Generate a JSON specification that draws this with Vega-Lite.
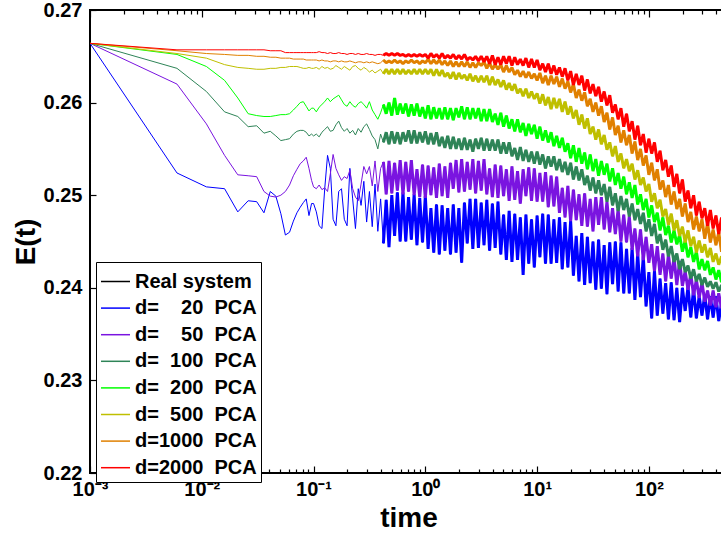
{
"$schema":"https://vega.github.io/schema/vega-lite/v6.json",
"width":637,"height":463,
"autosize":{"type":"none"},
"padding":{"left":90,"top":10,"right":0,"bottom":62},
"background":"white",
"config":{"view":{"stroke":"black","strokeWidth":2},"font":"Liberation Sans"},
"data":{"values":[
{"t":0.001,"a":0.2664,"b":0.2664,"c":0.2664,"d":0.2664,"e":0.2664,"f":0.2664,"g":0.2664,"r":0.2664},
{"t":0.006,"a":0.2524,"b":0.2620,"c":0.2637,"d":0.2652,"e":0.2653,"f":0.2656,"g":0.2657},
{"t":0.011,"a":0.2509,"b":0.2577,"c":0.2612,"d":0.2639,"e":0.2648,"f":0.2653,"g":0.2657},
{"t":0.016,"a":0.2507,"b":0.2543,"c":0.2590,"d":0.2624,"e":0.2641,"f":0.2652,"g":0.2657},
{"t":0.021,"a":0.2482,"b":0.2522,"c":0.2585,"d":0.2605,"e":0.2638,"f":0.2651,"g":0.2657},
{"t":0.026,"a":0.2494,"b":0.2521,"c":0.2574,"d":0.2588,"e":0.2637,"f":0.2651,"g":0.2657},
{"t":0.031,"a":0.2493,"b":0.2520,"c":0.2575,"d":0.2586,"e":0.2636,"f":0.2650,"g":0.2657},
{"t":0.036,"a":0.2481,"b":0.2504,"c":0.2567,"d":0.2585,"e":0.2636,"f":0.2650,"g":0.2657},
{"t":0.041,"a":0.2504,"b":0.2499,"c":0.2569,"d":0.2585,"e":0.2637,"f":0.2649,"g":0.2656},
{"t":0.046,"a":0.2499,"b":0.2498,"c":0.2564,"d":0.2586,"e":0.2637,"f":0.2649,"g":0.2656},
{"t":0.051,"a":0.2480,"b":0.2500,"c":0.2559,"d":0.2587,"e":0.2638,"f":0.2648,"g":0.2656},
{"t":0.056,"a":0.2457,"b":0.2504,"c":0.2560,"d":0.2587,"e":0.2638,"f":0.2648,"g":0.2654},
{"t":0.061,"a":0.2460,"b":0.2511,"c":0.2561,"d":0.2588,"e":0.2639,"f":0.2648,"g":0.2654},
{"t":0.066,"a":0.2472,"b":0.2521,"c":0.2566,"d":0.2592,"e":0.2639,"f":0.2647,"g":0.2654},
{"t":0.071,"a":0.2481,"b":0.2528,"c":0.2569,"d":0.2596,"e":0.2639,"f":0.2647,"g":0.2654},
{"t":0.076,"a":0.2487,"b":0.2534,"c":0.2570,"d":0.2600,"e":0.2638,"f":0.2647,"g":0.2654},
{"t":0.081,"a":0.2492,"b":0.2537,"c":0.2570,"d":0.2601,"e":0.2637,"f":0.2647,"g":0.2654},
{"t":0.086,"a":0.2496,"b":0.2541,"c":0.2568,"d":0.2596,"e":0.2637,"f":0.2646,"g":0.2654},
{"t":0.091,"a":0.2478,"b":0.2529,"c":0.2564,"d":0.2591,"e":0.2638,"f":0.2646,"g":0.2654},
{"t":0.096,"a":0.2491,"b":0.2516,"c":0.2566,"d":0.2594,"e":0.2637,"f":0.2646,"g":0.2654},
{"t":0.1,"a":0.2491,"b":0.2509,"c":0.2564,"d":0.2594,"e":0.2637,"f":0.2646,"g":0.2654},
{"t":0.1059,"a":0.2482,"b":0.2507,"c":0.2566,"d":0.2590,"e":0.2638,"f":0.2646,"g":0.2654},
{"t":0.1122,"a":0.2467,"b":0.2511,"c":0.2563,"d":0.2595,"e":0.2636,"f":0.2645,"g":0.2655},
{"t":0.1189,"a":0.2464,"b":0.2506,"c":0.2568,"d":0.2598,"e":0.2639,"f":0.2646,"g":0.2654},
{"t":0.1259,"a":0.2507,"b":0.2508,"c":0.2571,"d":0.2601,"e":0.2637,"f":0.2645,"g":0.2654},
{"t":0.1334,"a":0.2543,"b":0.2504,"c":0.2574,"d":0.2605,"e":0.2638,"f":0.2645,"g":0.2653},
{"t":0.1413,"a":0.2529,"b":0.2523,"c":0.2569,"d":0.2601,"e":0.2636,"f":0.2644,"g":0.2654},
{"t":0.1496,"a":0.2474,"b":0.2544,"c":0.2570,"d":0.2604,"e":0.2637,"f":0.2645,"g":0.2653},
{"t":0.1585,"a":0.2467,"b":0.2529,"c":0.2576,"d":0.2606,"e":0.2640,"f":0.2645,"g":0.2653},
{"t":0.1679,"a":0.2504,"b":0.2522,"c":0.2580,"d":0.2608,"e":0.2638,"f":0.2644,"g":0.2654},
{"t":0.1778,"a":0.2507,"b":0.2516,"c":0.2573,"d":0.2603,"e":0.2636,"f":0.2645,"g":0.2653},
{"t":0.1884,"a":0.2474,"b":0.2520,"c":0.2569,"d":0.2598,"e":0.2639,"f":0.2644,"g":0.2653},
{"t":0.1995,"a":0.2467,"b":0.2518,"c":0.2572,"d":0.2596,"e":0.2637,"f":0.2644,"g":0.2652},
{"t":0.2113,"a":0.2529,"b":0.2527,"c":0.2567,"d":0.2601,"e":0.2635,"f":0.2645,"g":0.2653},
{"t":0.2239,"a":0.2496,"b":0.2507,"c":0.2570,"d":0.2597,"e":0.2639,"f":0.2644,"g":0.2653},
{"t":0.2371,"a":0.2464,"b":0.2498,"c":0.2565,"d":0.2595,"e":0.2640,"f":0.2643,"g":0.2652},
{"t":0.2512,"a":0.2507,"b":0.2494,"c":0.2572,"d":0.2599,"e":0.2637,"f":0.2644,"g":0.2653},
{"t":0.2661,"a":0.2489,"b":0.2512,"c":0.2568,"d":0.2601,"e":0.2635,"f":0.2644,"g":0.2652},
{"t":0.2818,"a":0.2515,"b":0.2531,"c":0.2574,"d":0.2598,"e":0.2638,"f":0.2643,"g":0.2652},
{"t":0.2985,"a":0.2471,"b":0.2523,"c":0.2577,"d":0.2594,"e":0.2636,"f":0.2644,"g":0.2653},
{"t":0.3162,"a":0.2504,"b":0.2531,"c":0.2571,"d":0.2601,"e":0.2633,"f":0.2643,"g":0.2652},
{"t":0.335,"a":0.2466,"b":0.2510,"c":0.2564,"d":0.2592,"e":0.2635,"f":0.2644,"g":0.2652},
{"t":0.3548,"a":0.2512,"b":0.2537,"c":0.2560,"d":0.2587,"e":0.2632,"f":0.2643,"g":0.2651},
{"t":0.3758,"a":0.2461,"b":0.2504,"c":0.2550,"d":0.2582,"e":0.2634,"f":0.2642,"g":0.2652},
{"t":0.3981,"a":0.2496,"b":0.2529,"c":0.2566,"d":0.2589,"e":0.2636,"f":0.2643,"g":0.2652},
{"t":0.4217,"a":0.2448,"b":0.2536,"c":0.2557,"d":0.2598,"e":0.2631,"f":0.2646,"g":0.2651},
{"t":0.4467,"a":0.2495,"b":0.2501,"c":0.2568,"d":0.2588,"e":0.2636,"f":0.2643,"g":0.2653},
{"t":0.4732,"a":0.2444,"b":0.2537,"c":0.2555,"d":0.2600,"e":0.2631,"f":0.2645,"g":0.2651},
{"t":0.5012,"a":0.2500,"b":0.2502,"c":0.2569,"d":0.2586,"e":0.2636,"f":0.2643,"g":0.2653},
{"t":0.5309,"a":0.2456,"b":0.2535,"c":0.2556,"d":0.2605,"e":0.2631,"f":0.2646,"g":0.2651},
{"t":0.5623,"a":0.2503,"b":0.2505,"c":0.2568,"d":0.2587,"e":0.2636,"f":0.2643,"g":0.2653},
{"t":0.5957,"a":0.2450,"b":0.2538,"c":0.2555,"d":0.2599,"e":0.2631,"f":0.2645,"g":0.2651},
{"t":0.631,"a":0.2503,"b":0.2501,"c":0.2568,"d":0.2588,"e":0.2636,"f":0.2642,"g":0.2652},
{"t":0.6683,"a":0.2450,"b":0.2536,"c":0.2558,"d":0.2599,"e":0.2631,"f":0.2645,"g":0.2650},
{"t":0.7079,"a":0.2498,"b":0.2504,"c":0.2570,"d":0.2585,"e":0.2635,"f":0.2643,"g":0.2652},
{"t":0.7499,"a":0.2452,"b":0.2538,"c":0.2556,"d":0.2598,"e":0.2631,"f":0.2646,"g":0.2650},
{"t":0.7943,"a":0.2501,"b":0.2500,"c":0.2570,"d":0.2586,"e":0.2636,"f":0.2643,"g":0.2652},
{"t":0.8414,"a":0.2446,"b":0.2528,"c":0.2556,"d":0.2599,"e":0.2631,"f":0.2645,"g":0.2650},
{"t":0.8913,"a":0.2497,"b":0.2498,"c":0.2568,"d":0.2585,"e":0.2636,"f":0.2642,"g":0.2652},
{"t":0.9441,"a":0.2449,"b":0.2533,"c":0.2557,"d":0.2595,"e":0.2631,"f":0.2645,"g":0.2650},
{"t":1,"a":0.2499,"b":0.2497,"c":0.2569,"d":0.2583,"e":0.2636,"f":0.2643,"g":0.2652},
{"t":1.059,"a":0.2442,"b":0.2532,"c":0.2555,"d":0.2597,"e":0.2631,"f":0.2647,"g":0.2648},
{"t":1.122,"a":0.2486,"b":0.2500,"c":0.2567,"d":0.2582,"e":0.2636,"f":0.2642,"g":0.2653},
{"t":1.189,"a":0.2438,"b":0.2530,"c":0.2555,"d":0.2595,"e":0.2629,"f":0.2646,"g":0.2649},
{"t":1.259,"a":0.2490,"b":0.2497,"c":0.2568,"d":0.2583,"e":0.2636,"f":0.2642,"g":0.2652},
{"t":1.334,"a":0.2436,"b":0.2534,"c":0.2553,"d":0.2594,"e":0.2629,"f":0.2646,"g":0.2648},
{"t":1.413,"a":0.2489,"b":0.2499,"c":0.2563,"d":0.2582,"e":0.2635,"f":0.2641,"g":0.2653},
{"t":1.496,"a":0.2440,"b":0.2531,"c":0.2551,"d":0.2595,"e":0.2628,"f":0.2645,"g":0.2648},
{"t":1.585,"a":0.2486,"b":0.2497,"c":0.2564,"d":0.2582,"e":0.2632,"f":0.2640,"g":0.2651},
{"t":1.679,"a":0.2436,"b":0.2535,"c":0.2550,"d":0.2594,"e":0.2626,"f":0.2645,"g":0.2648},
{"t":1.778,"a":0.2490,"b":0.2507,"c":0.2563,"d":0.2581,"e":0.2633,"f":0.2639,"g":0.2652},
{"t":1.884,"a":0.2438,"b":0.2538,"c":0.2550,"d":0.2594,"e":0.2625,"f":0.2644,"g":0.2647},
{"t":1.995,"a":0.2486,"b":0.2503,"c":0.2561,"d":0.2584,"e":0.2632,"f":0.2639,"g":0.2651},
{"t":2.113,"a":0.2427,"b":0.2539,"c":0.2549,"d":0.2596,"e":0.2626,"f":0.2644,"g":0.2647},
{"t":2.239,"a":0.2492,"b":0.2504,"c":0.2562,"d":0.2582,"e":0.2630,"f":0.2639,"g":0.2652},
{"t":2.371,"a":0.2448,"b":0.2536,"c":0.2549,"d":0.2595,"e":0.2624,"f":0.2644,"g":0.2646},
{"t":2.512,"a":0.2496,"b":0.2506,"c":0.2560,"d":0.2582,"e":0.2631,"f":0.2638,"g":0.2649},
{"t":2.661,"a":0.2442,"b":0.2539,"c":0.2547,"d":0.2594,"e":0.2623,"f":0.2643,"g":0.2646},
{"t":2.818,"a":0.2496,"b":0.2502,"c":0.2561,"d":0.2583,"e":0.2629,"f":0.2638,"g":0.2650},
{"t":2.985,"a":0.2443,"b":0.2537,"c":0.2550,"d":0.2594,"e":0.2622,"f":0.2643,"g":0.2645},
{"t":3.162,"a":0.2492,"b":0.2505,"c":0.2562,"d":0.2580,"e":0.2629,"f":0.2640,"g":0.2650},
{"t":3.35,"a":0.2446,"b":0.2539,"c":0.2548,"d":0.2593,"e":0.2622,"f":0.2644,"g":0.2644},
{"t":3.548,"a":0.2495,"b":0.2501,"c":0.2561,"d":0.2580,"e":0.2629,"f":0.2637,"g":0.2650},
{"t":3.758,"a":0.2440,"b":0.2529,"c":0.2548,"d":0.2593,"e":0.2619,"f":0.2643,"g":0.2642},
{"t":3.981,"a":0.2491,"b":0.2498,"c":0.2560,"d":0.2579,"e":0.2628,"f":0.2636,"g":0.2651},
{"t":4.217,"a":0.2443,"b":0.2533,"c":0.2548,"d":0.2588,"e":0.2619,"f":0.2641,"g":0.2641},
{"t":4.467,"a":0.2493,"b":0.2497,"c":0.2560,"d":0.2576,"e":0.2625,"f":0.2636,"g":0.2649},
{"t":4.732,"a":0.2436,"b":0.2532,"c":0.2545,"d":0.2589,"e":0.2617,"f":0.2641,"g":0.2641},
{"t":5.012,"a":0.2479,"b":0.2499,"c":0.2557,"d":0.2574,"e":0.2624,"f":0.2633,"g":0.2650},
{"t":5.309,"a":0.2430,"b":0.2528,"c":0.2545,"d":0.2586,"e":0.2614,"f":0.2640,"g":0.2642},
{"t":5.623,"a":0.2483,"b":0.2494,"c":0.2557,"d":0.2572,"e":0.2621,"f":0.2633,"g":0.2650},
{"t":5.957,"a":0.2428,"b":0.2531,"c":0.2542,"d":0.2582,"e":0.2613,"f":0.2638,"g":0.2640},
{"t":6.31,"a":0.2480,"b":0.2495,"c":0.2551,"d":0.2569,"e":0.2620,"f":0.2630,"g":0.2649},
{"t":6.683,"a":0.2430,"b":0.2526,"c":0.2538,"d":0.2582,"e":0.2610,"f":0.2635,"g":0.2641},
{"t":7.079,"a":0.2476,"b":0.2491,"c":0.2552,"d":0.2568,"e":0.2615,"f":0.2628,"g":0.2647},
{"t":7.499,"a":0.2414,"b":0.2528,"c":0.2537,"d":0.2578,"e":0.2607,"f":0.2634,"g":0.2640},
{"t":7.943,"a":0.2479,"b":0.2499,"c":0.2549,"d":0.2564,"e":0.2615,"f":0.2627,"g":0.2648},
{"t":8.414,"a":0.2426,"b":0.2530,"c":0.2536,"d":0.2577,"e":0.2605,"f":0.2633,"g":0.2638},
{"t":8.913,"a":0.2474,"b":0.2494,"c":0.2547,"d":0.2566,"e":0.2612,"f":0.2626,"g":0.2647},
{"t":9.441,"a":0.2422,"b":0.2529,"c":0.2534,"d":0.2576,"e":0.2604,"f":0.2631,"g":0.2638},
{"t":10,"a":0.2478,"b":0.2493,"c":0.2547,"d":0.2561,"e":0.2610,"f":0.2624,"g":0.2646},
{"t":10.59,"a":0.2433,"b":0.2524,"c":0.2533,"d":0.2574,"e":0.2599,"f":0.2632,"g":0.2635},
{"t":11.22,"a":0.2480,"b":0.2493,"c":0.2544,"d":0.2559,"e":0.2609,"f":0.2621,"g":0.2642},
{"t":11.89,"a":0.2426,"b":0.2525,"c":0.2529,"d":0.2570,"e":0.2597,"f":0.2629,"g":0.2633},
{"t":12.59,"a":0.2479,"b":0.2487,"c":0.2542,"d":0.2557,"e":0.2606,"f":0.2619,"g":0.2642},
{"t":13.34,"a":0.2426,"b":0.2521,"c":0.2531,"d":0.2568,"e":0.2593,"f":0.2629,"g":0.2631},
{"t":14.13,"a":0.2474,"b":0.2488,"c":0.2542,"d":0.2553,"e":0.2605,"f":0.2620,"g":0.2640},
{"t":14.96,"a":0.2427,"b":0.2520,"c":0.2527,"d":0.2564,"e":0.2594,"f":0.2628,"g":0.2630},
{"t":15.85,"a":0.2476,"b":0.2481,"c":0.2539,"d":0.2551,"e":0.2604,"f":0.2617,"g":0.2638},
{"t":16.79,"a":0.2420,"b":0.2508,"c":0.2525,"d":0.2562,"e":0.2590,"f":0.2626,"g":0.2628},
{"t":17.78,"a":0.2471,"b":0.2476,"c":0.2536,"d":0.2547,"e":0.2601,"f":0.2615,"g":0.2637},
{"t":18.84,"a":0.2422,"b":0.2510,"c":0.2522,"d":0.2556,"e":0.2587,"f":0.2623,"g":0.2624},
{"t":19.95,"a":0.2472,"b":0.2472,"c":0.2535,"d":0.2540,"e":0.2596,"f":0.2611,"g":0.2634},
{"t":21.13,"a":0.2413,"b":0.2506,"c":0.2517,"d":0.2554,"e":0.2583,"f":0.2620,"g":0.2619},
{"t":22.39,"a":0.2456,"b":0.2473,"c":0.2531,"d":0.2536,"e":0.2592,"f":0.2605,"g":0.2631},
{"t":23.71,"a":0.2407,"b":0.2501,"c":0.2516,"d":0.2551,"e":0.2576,"f":0.2614,"g":0.2619},
{"t":25.12,"a":0.2459,"b":0.2467,"c":0.2528,"d":0.2534,"e":0.2587,"f":0.2602,"g":0.2629},
{"t":26.61,"a":0.2403,"b":0.2502,"c":0.2511,"d":0.2546,"e":0.2572,"f":0.2611,"g":0.2613},
{"t":28.18,"a":0.2455,"b":0.2466,"c":0.2521,"d":0.2528,"e":0.2583,"f":0.2596,"g":0.2625},
{"t":29.85,"a":0.2405,"b":0.2496,"c":0.2505,"d":0.2544,"e":0.2566,"f":0.2604,"g":0.2610},
{"t":31.62,"a":0.2450,"b":0.2461,"c":0.2519,"d":0.2526,"e":0.2574,"f":0.2590,"g":0.2620},
{"t":33.5,"a":0.2398,"b":0.2498,"c":0.2502,"d":0.2539,"e":0.2560,"f":0.2600,"g":0.2607},
{"t":35.48,"a":0.2452,"b":0.2468,"c":0.2516,"d":0.2521,"e":0.2571,"f":0.2586,"g":0.2617},
{"t":37.58,"a":0.2399,"b":0.2498,"c":0.2500,"d":0.2537,"e":0.2555,"f":0.2596,"g":0.2601},
{"t":39.81,"a":0.2446,"b":0.2463,"c":0.2512,"d":0.2522,"e":0.2565,"f":0.2579,"g":0.2612},
{"t":42.17,"a":0.2393,"b":0.2493,"c":0.2493,"d":0.2534,"e":0.2549,"f":0.2589,"g":0.2597},
{"t":44.67,"a":0.2449,"b":0.2460,"c":0.2509,"d":0.2515,"e":0.2557,"f":0.2571,"g":0.2608},
{"t":47.32,"a":0.2404,"b":0.2486,"c":0.2489,"d":0.2529,"e":0.2542,"f":0.2584,"g":0.2589},
{"t":50.12,"a":0.2450,"b":0.2458,"c":0.2502,"d":0.2511,"e":0.2553,"f":0.2565,"g":0.2598},
{"t":53.09,"a":0.2396,"b":0.2485,"c":0.2483,"d":0.2524,"e":0.2536,"f":0.2575,"g":0.2582},
{"t":56.23,"a":0.2449,"b":0.2450,"c":0.2499,"d":0.2507,"e":0.2545,"f":0.2557,"g":0.2594},
{"t":59.57,"a":0.2394,"b":0.2479,"c":0.2484,"d":0.2520,"e":0.2529,"f":0.2570,"g":0.2574},
{"t":63.1,"a":0.2442,"b":0.2449,"c":0.2496,"d":0.2501,"e":0.2539,"f":0.2554,"g":0.2588},
{"t":66.83,"a":0.2394,"b":0.2477,"c":0.2477,"d":0.2514,"e":0.2526,"f":0.2565,"g":0.2569},
{"t":70.79,"a":0.2443,"b":0.2441,"c":0.2491,"d":0.2497,"e":0.2534,"f":0.2545,"g":0.2580},
{"t":74.99,"a":0.2387,"b":0.2464,"c":0.2473,"d":0.2511,"e":0.2517,"f":0.2558,"g":0.2560},
{"t":79.43,"a":0.2437,"b":0.2434,"c":0.2485,"d":0.2490,"e":0.2527,"f":0.2538,"g":0.2575},
{"t":84.14,"a":0.2390,"b":0.2463,"c":0.2469,"d":0.2501,"e":0.2511,"f":0.2550,"g":0.2554},
{"t":89.13,"a":0.2434,"b":0.2430,"c":0.2481,"d":0.2484,"e":0.2519,"f":0.2532,"g":0.2566},
{"t":94.41,"a":0.2380,"b":0.2455,"c":0.2461,"d":0.2496,"e":0.2504,"f":0.2543,"g":0.2546},
{"t":100,"a":0.2417,"b":0.2427,"c":0.2474,"d":0.2476,"e":0.2512,"f":0.2522,"g":0.2561},
{"t":105.9,"a":0.2367,"b":0.2447,"c":0.2456,"d":0.2489,"e":0.2493,"f":0.2535,"g":0.2545},
{"t":112.2,"a":0.2418,"b":0.2418,"c":0.2469,"d":0.2471,"e":0.2502,"f":0.2516,"g":0.2557},
{"t":118.9,"a":0.2370,"b":0.2445,"c":0.2448,"d":0.2481,"e":0.2486,"f":0.2528,"g":0.2536},
{"t":125.9,"a":0.2410,"b":0.2414,"c":0.2458,"d":0.2462,"e":0.2495,"f":0.2506,"g":0.2548},
{"t":133.4,"a":0.2372,"b":0.2437,"c":0.2441,"d":0.2476,"e":0.2477,"f":0.2516,"g":0.2527},
{"t":141.3,"a":0.2405,"b":0.2407,"c":0.2452,"d":0.2457,"e":0.2485,"f":0.2498,"g":0.2538},
{"t":149.6,"a":0.2366,"b":0.2436,"c":0.2434,"d":0.2467,"e":0.2468,"f":0.2511,"g":0.2520},
{"t":158.5,"a":0.2406,"b":0.2410,"c":0.2445,"d":0.2449,"e":0.2480,"f":0.2490,"g":0.2532},
{"t":167.9,"a":0.2365,"b":0.2433,"c":0.2428,"d":0.2462,"e":0.2462,"f":0.2504,"g":0.2509},
{"t":177.8,"a":0.2400,"b":0.2403,"c":0.2437,"d":0.2447,"e":0.2473,"f":0.2485,"g":0.2523},
{"t":188.4,"a":0.2363,"b":0.2429,"c":0.2420,"d":0.2457,"e":0.2456,"f":0.2496,"g":0.2502},
{"t":199.5,"a":0.2400,"b":0.2402,"c":0.2431,"d":0.2439,"e":0.2466,"f":0.2477,"g":0.2517},
{"t":211.3,"a":0.2375,"b":0.2418,"c":0.2417,"d":0.2451,"e":0.2449,"f":0.2491,"g":0.2493},
{"t":223.9,"a":0.2401,"b":0.2398,"c":0.2424,"d":0.2433,"e":0.2462,"f":0.2471,"g":0.2505},
{"t":237.1,"a":0.2368,"b":0.2415,"c":0.2410,"d":0.2444,"e":0.2445,"f":0.2482,"g":0.2486},
{"t":251.2,"a":0.2399,"b":0.2392,"c":0.2420,"d":0.2428,"e":0.2455,"f":0.2463,"g":0.2500},
{"t":266.1,"a":0.2367,"b":0.2409,"c":0.2407,"d":0.2439,"e":0.2438,"f":0.2477,"g":0.2478},
{"t":281.8,"a":0.2391,"b":0.2389,"c":0.2415,"d":0.2420,"e":0.2451,"f":0.2461,"g":0.2493},
{"t":298.5,"a":0.2370,"b":0.2406,"c":0.2403,"d":0.2431,"e":0.2438,"f":0.2474,"g":0.2475},
{"t":316.2,"a":0.2393,"b":0.2385,"c":0.2411,"d":0.2419,"e":0.2447,"f":0.2453,"g":0.2486},
{"t":335,"a":0.2366,"b":0.2397,"c":0.2401,"d":0.2429,"e":0.2433,"f":0.2470,"g":0.2467},
{"t":354.8,"a":0.2391,"b":0.2381,"c":0.2407,"d":0.2414,"e":0.2443,"f":0.2449,"g":0.2484},
{"t":375.8,"a":0.2368,"b":0.2397,"c":0.2399,"d":0.2422,"e":0.2428,"f":0.2463,"g":0.2464},
{"t":398.1,"a":0.2391,"b":0.2379,"c":0.2406,"d":0.2409,"e":0.2437,"f":0.2446,"g":0.2478},
{"t":421.7,"a":0.2364,"b":0.2394,"c":0.2396,"d":0.2419,"e":0.2425,"f":0.2460,"g":0.2458},
{"t":446.7,"a":0.2384,"b":0.2378,"c":0.2403,"d":0.2406,"e":0.2434,"f":0.2439,"g":0.2476},
{"t":473.2,"a":0.2361,"b":0.2390,"c":0.2394,"d":0.2416,"e":0.2420,"f":0.2454,"g":0.2459},
{"t":501.2,"a":0.2384,"b":0.2375,"c":0.2401,"d":0.2403,"e":0.2429,"f":0.2435,"g":0.2472,"r":0.2664}
]},
"transform":[{"fold":["r","a","b","c","d","e","f","g"],"as":["s","v"]}],
"layer":[
{"mark":{"type":"line","strokeWidth":1,"clip":true},
 "encoding":{
  "x":{"field":"t","type":"quantitative","scale":{"type":"log","domain":[0.001,500],"nice":false},
   "axis":{"orient":"bottom","values":[0.001,0.002,0.003,0.004,0.005,0.006,0.007,0.008,0.009,0.01,0.02,0.03,0.04,0.05,0.06,0.07,0.08,0.09,0.1,0.2,0.3,0.4,0.5,0.6,0.7,0.8,0.9,1,2,3,4,5,6,7,8,9,10,20,30,40,50,60,70,80,90,100,200,300,400,500],
    "labelExpr":"datum.value==0.001?'10⁻³':datum.value==0.01?'10⁻²':datum.value==0.1?'10⁻¹':datum.value==1?'10⁰':datum.value==10?'10¹':datum.value==100?'10²':''",
    "tickSize":{"condition":{"test":"indexof([0.001,0.01,0.1,1,10,100],datum.value)>=0","value":-7},"value":-4},
    "tickColor":"black","tickWidth":1.2,"domain":false,"grid":false,"labelFlush":false,"labelOverlap":false,"labelBound":false,
    "labelFont":"Liberation Sans","labelFontSize":20,"labelFontWeight":"bold","labelColor":"black","labelPadding":13,
    "title":"time","titleFont":"Liberation Sans","titleFontSize":28,"titleFontWeight":"bold","titleColor":"black","titlePadding":2}},
  "y":{"field":"v","type":"quantitative","scale":{"domain":[0.22,0.27],"nice":false,"zero":false},
   "axis":{"orient":"left","values":[0.22,0.23,0.24,0.25,0.26,0.27],"format":".2f","tickSize":-6,"tickColor":"black","tickWidth":1.2,
    "domain":false,"grid":false,"labelFlush":false,"labelOverlap":false,"labelBound":false,
    "labelFont":"Liberation Sans","labelFontSize":20,"labelFontWeight":"bold","labelColor":"black","labelPadding":14,
    "title":"E(t)","titleFont":"Liberation Sans","titleFontSize":28,"titleFontWeight":"bold","titleColor":"black","titlePadding":3}},
  "color":{"field":"s","type":"nominal",
   "scale":{"domain":["r","a","b","c","d","e","f","g"],"range":["#000000","#0000FF","#7A14E0","#2E8457","#00FF00","#BFBF00","#E08000","#FF0000"]},
   "legend":{"title":null,"orient":"none","legendX":6,"legendY":252,
    "labelExpr":"{'r':'Real system','a':'d=\u00a0\u00a0\u00a0\u00a020\u00a0\u00a0PCA','b':'d=\u00a0\u00a0\u00a0\u00a050\u00a0\u00a0PCA','c':'d=\u00a0\u00a0100\u00a0\u00a0PCA','d':'d=\u00a0\u00a0200\u00a0\u00a0PCA','e':'d=\u00a0\u00a0500\u00a0\u00a0PCA','f':'d=1000\u00a0\u00a0PCA','g':'d=2000\u00a0\u00a0PCA'}[datum.value]",
    "labelFont":"Liberation Sans","labelFontSize":20,"labelFontWeight":"bold","labelColor":"black","labelLimit":300,"labelOffset":4,
    "symbolType":"stroke","symbolSize":841,"symbolStrokeWidth":1.5,"rowPadding":0.6,
    "strokeColor":"black","fillColor":"white","padding":4}}
 }},
{"transform":[{"filter":"datum.t >= 0.42 && datum.s != 'r'"}],
 "mark":{"type":"line","strokeWidth":3,"strokeJoin":"bevel","clip":true},
 "encoding":{
  "x":{"field":"t","type":"quantitative",
   "axis":{"orient":"top","values":[0.001,0.002,0.003,0.004,0.005,0.006,0.007,0.008,0.009,0.01,0.02,0.03,0.04,0.05,0.06,0.07,0.08,0.09,0.1,0.2,0.3,0.4,0.5,0.6,0.7,0.8,0.9,1,2,3,4,5,6,7,8,9,10,20,30,40,50,60,70,80,90,100,200,300,400,500],
    "labels":false,"tickSize":{"condition":{"test":"indexof([0.001,0.01,0.1,1,10,100],datum.value)>=0","value":-7},"value":-4},
    "tickColor":"black","tickWidth":1.2,"domain":false,"grid":false,"title":null}},
  "y":{"field":"v","type":"quantitative",
   "axis":{"orient":"right","values":[0.22,0.23,0.24,0.25,0.26,0.27],"labels":false,"tickSize":-6,"tickColor":"black","tickWidth":1.2,"domain":false,"grid":false,"title":null}},
  "color":{"field":"s","type":"nominal"}
 }}
],
"resolve":{"axis":{"x":"independent","y":"independent"}}
}
